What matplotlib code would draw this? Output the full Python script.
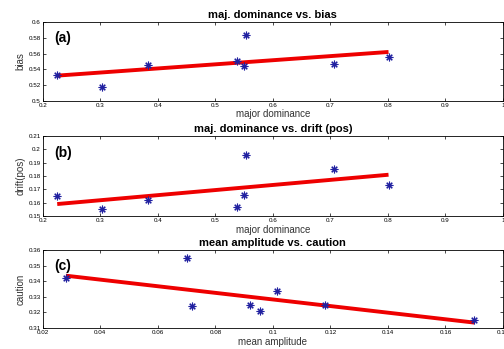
import numpy as np
import matplotlib
matplotlib.use("Agg")
import matplotlib.pyplot as plt

# panel (a): major dominance vs bias
dom_x = [0.225, 0.302, 0.383, 0.537, 0.550, 0.553, 0.706, 0.801]
bias_y = [0.533, 0.518, 0.545, 0.550, 0.544, 0.583, 0.547, 0.555]
bias_fit_x = [0.225, 0.801]
bias_fit_y = [0.532, 0.562]

# panel (b): major dominance vs drift (pos)
drift_y = [0.165, 0.155, 0.162, 0.157, 0.166, 0.196, 0.185, 0.173]
drift_fit_x = [0.225, 0.801]
drift_fit_y = [0.159, 0.181]

# panel (c): mean amplitude vs caution
amp_x = [0.028, 0.070, 0.072, 0.092, 0.0955, 0.1015, 0.118, 0.170]
caution_y = [0.342, 0.355, 0.324, 0.325, 0.321, 0.334, 0.325, 0.315]
caution_fit_x = [0.028, 0.170]
caution_fit_y = [0.3435, 0.3135]

plt.rcParams['font.family'] = ['Liberation Sans', 'DejaVu Sans']

fig = plt.figure(figsize=(5.04, 3.49), dpi=100)

panels = [
    ([0.085, 0.711, 0.913, 0.226], dom_x, bias_y, bias_fit_x, bias_fit_y,
     'maj. dominance vs. bias', 'major dominance', 'bias', '(a)',
     (0.2, 1.0), np.arange(0.2, 1.01, 0.1), (0.5, 0.6), np.arange(0.5, 0.601, 0.02)),
    ([0.085, 0.381, 0.913, 0.229], dom_x, drift_y, drift_fit_x, drift_fit_y,
     'maj. dominance vs. drift (pos)', 'major dominance', 'drift(pos)', '(b)',
     (0.2, 1.0), np.arange(0.2, 1.01, 0.1), (0.15, 0.21), np.arange(0.15, 0.2101, 0.01)),
    ([0.085, 0.060, 0.913, 0.224], amp_x, caution_y, caution_fit_x, caution_fit_y,
     'mean amplitude vs. caution', 'mean amplitude', 'caution', '(c)',
     (0.02, 0.18), np.arange(0.02, 0.181, 0.02), (0.31, 0.36), np.arange(0.31, 0.3601, 0.01)),
]

for rect, xs, ys, fx, fy, title, xlabel, ylabel, tag, xlim, xticks, ylim, yticks in panels:
    ax = fig.add_axes(rect)
    ax.plot(fx, fy, color='#ee0000', lw=2.8, solid_capstyle='butt', zorder=2)
    # matlab-style asterisk marker (+ and x combined)
    ax.plot(xs, ys, linestyle='none', marker=(8, 2, 0), color='#2020a0',
            ms=5.5, mew=0.8, zorder=3)
    ax.set_xlim(*xlim)
    ax.set_ylim(*ylim)
    ax.set_xticks(xticks)
    ax.set_yticks(yticks)
    ax.set_xticklabels(['%g' % round(t, 3) for t in xticks])
    ax.set_yticklabels(['%g' % round(t, 3) for t in yticks])
    ax.tick_params(direction='in', top=True, right=True, labelsize=4.5,
                   length=2.5, width=0.5, pad=1.5)
    for s in ax.spines.values():
        s.set_linewidth(0.6)
    ax.set_title(title, fontsize=8, fontweight='bold', pad=3)
    ax.set_xlabel(xlabel, fontsize=7, color='#333333', labelpad=1)
    ax.set_ylabel(ylabel, fontsize=7, color='#333333', labelpad=2)
    ax.text(0.025, 0.88, tag, transform=ax.transAxes, fontsize=10,
            fontweight='bold', va='top', ha='left')

fig.savefig('out.png', dpi=100)
